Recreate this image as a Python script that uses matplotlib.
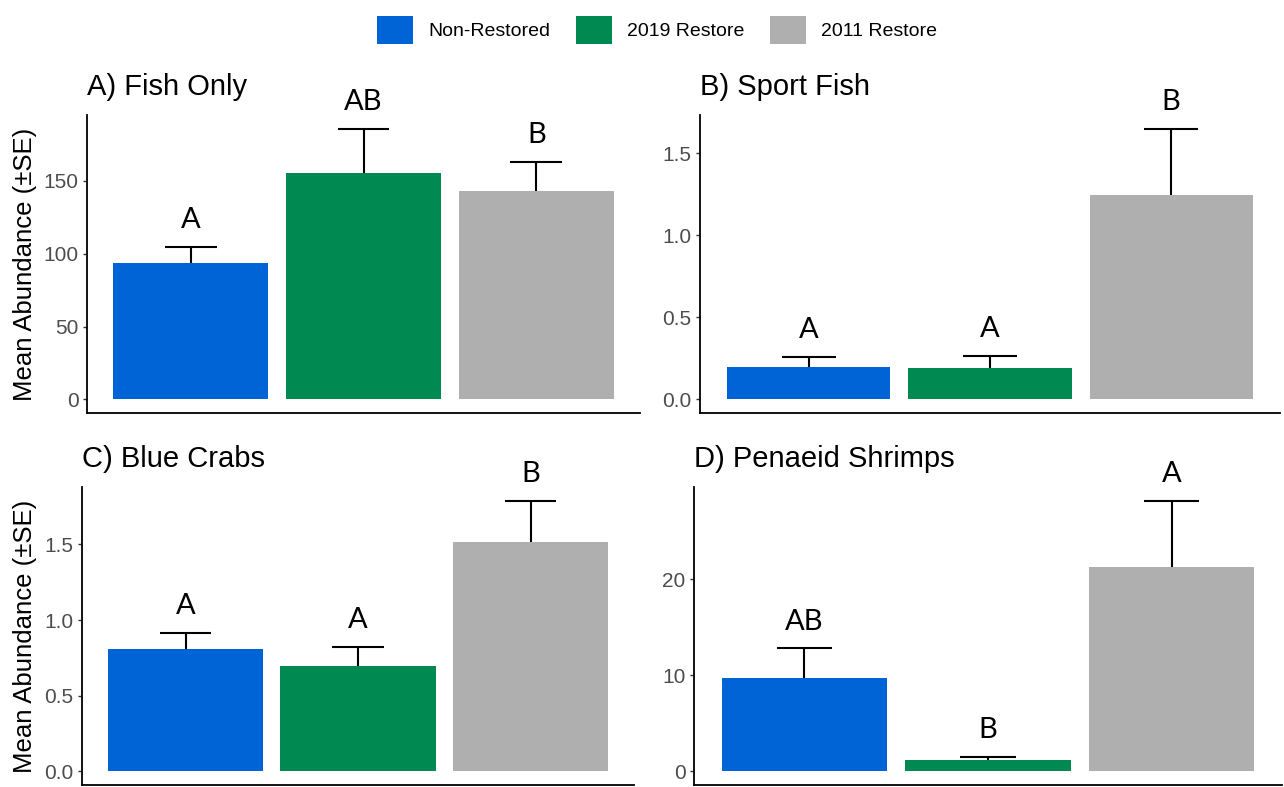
import matplotlib
matplotlib.use("Agg")
import matplotlib.pyplot as plt
from matplotlib.patches import Patch
import numpy as np

plt.rcParams['font.family'] = ['Liberation Sans', 'DejaVu Sans']

groups = ["Non-Restored", "2019 Restore", "2011 Restore"]
colors = ["#0064D7", "#008950", "#AFAFAF"]

titles = ["A) Fish Only", "B) Sport Fish", "C) Blue Crabs", "D) Penaeid Shrimps"]

fish_mean = [94, 155.5, 143]
fish_se = [11, 30.5, 20]
fish_letters = ["A", "AB", "B"]

sport_mean = [0.20, 0.19, 1.245]
sport_se = [0.06, 0.075, 0.405]
sport_letters = ["A", "A", "B"]

crab_mean = [0.81, 0.695, 1.515]
crab_se = [0.105, 0.13, 0.275]
crab_letters = ["A", "A", "B"]

shrimp_mean = [9.7, 1.2, 21.3]
shrimp_se = [3.1, 0.3, 6.9]
shrimp_letters = ["AB", "B", "A"]

yticks_list = [[0, 50, 100, 150], [0.0, 0.5, 1.0, 1.5], [0.0, 0.5, 1.0, 1.5], [0, 10, 20]]
ytick_fmt = ["{:.0f}", "{:.1f}", "{:.1f}", "{:.0f}"]

W, H = 1284, 787
fig = plt.figure(figsize=(W / 100, H / 100), dpi=100)

def px_axes(left, top, right, bottom):
    return fig.add_axes([left / W, 1 - bottom / H, (right - left) / W, (bottom - top) / H])

rects = [(87, 115, 640, 413), (700, 115, 1280, 413), (82, 487, 634, 785), (694, 487, 1282, 785)]
data = [(fish_mean, fish_se, fish_letters), (sport_mean, sport_se, sport_letters),
        (crab_mean, crab_se, crab_letters), (shrimp_mean, shrimp_se, shrimp_letters)]

x = np.arange(1, 4)
for i, (rect, (m, s, let)) in enumerate(zip(rects, data)):
    ax = px_axes(*rect)
    m = np.array(m); s = np.array(s)
    tops = m + s
    ax.bar(x, m, width=0.9, color=colors, zorder=2)
    ax.vlines(x, m, tops, color="black", linewidth=1.5, zorder=3)
    ax.hlines(tops, x - 0.15, x + 0.15, color="black", linewidth=1.5, zorder=3)
    for xi, t, l in zip(x, tops, let):
        ax.annotate(l, (xi, t), xytext=(0, 13.5), textcoords="offset points",
                    ha="center", va="baseline", fontsize=21, family=["Lato", "DejaVu Sans"],
                    annotation_clip=False)
    ymax = tops.max()
    ax.set_ylim(-0.05 * ymax, 1.05 * ymax)
    ax.set_xlim(0.4, 3.6)
    ax.set_xticks([])
    ax.set_yticks(yticks_list[i])
    ax.set_yticklabels([ytick_fmt[i].format(v) for v in yticks_list[i]])
    ax.tick_params(axis="y", labelsize=15, labelcolor="#4D4D4D", length=3, width=1.0,
                   color="#333333", pad=3)
    for sp in ["top", "right"]:
        ax.spines[sp].set_visible(False)
    for sp in ["left", "bottom"]:
        ax.spines[sp].set_linewidth(1.3)
        ax.spines[sp].set_color("black")
    ax.set_title(titles[i], loc="left", fontsize=21, pad=14.5)
    if i in (0, 2):
        ax.set_ylabel("Mean Abundance (\u00b1SE)", fontsize=18.5, labelpad=5)

handles = [Patch(facecolor=c, edgecolor="none") for c in colors]
fig.legend(handles, groups, loc="center", bbox_to_anchor=(657 / W, 1 - 30 / H), ncol=3,
           frameon=False, fontsize=14, handlelength=1.85, handleheight=1.85,
           handletextpad=0.8, columnspacing=1.3)

fig.savefig("out.png", dpi=100)
